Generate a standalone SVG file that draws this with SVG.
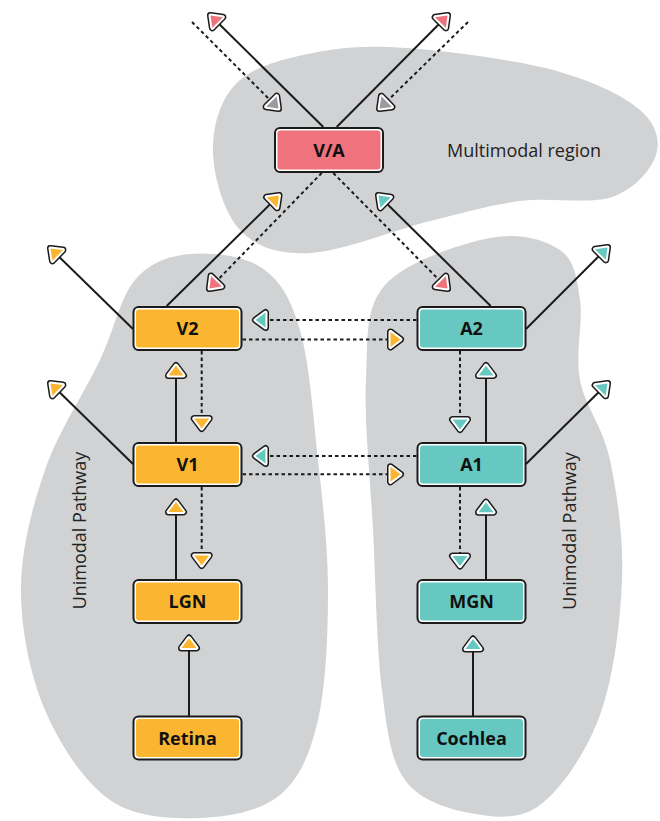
<svg xmlns="http://www.w3.org/2000/svg" xmlns:xlink="http://www.w3.org/1999/xlink" width="660" height="821" viewBox="0 0 660 821">
<style>
.blob{fill:#D1D2D4}
.ln{stroke:#1b1b1b;stroke-width:2;fill:none}
.dot{stroke:#1b1b1b;stroke-width:2;fill:none;stroke-dasharray:3.5 3}
.ak{fill:#1b1b1b;stroke:#1b1b1b;stroke-width:7;stroke-linejoin:round}
.aw{fill:#fff;stroke:#fff;stroke-width:4;stroke-linejoin:round}
.bo{fill:#fff;stroke:#1b1b1b;stroke-width:2}
.or{fill:#FBB631}
.te{fill:#67C8C2}
.pk{fill:#EF737C}
.gr{fill:#9A9B9F}
.lbl{font-family:"Open Sans","Noto Sans","Liberation Sans",sans-serif;font-weight:700;font-size:18px;fill:#111;text-anchor:middle}
.reg{font-family:"Open Sans","Noto Sans","Liberation Sans",sans-serif;font-size:18px;fill:#222}
</style>
<defs>
<path id="ah" d="M-13.5,-7.5 L-3.5,0 L-13.5,7.5 Z"/>
<marker id="mo" viewBox="-20 -12 24 24" refX="0" refY="0" markerWidth="24" markerHeight="24" markerUnits="userSpaceOnUse" orient="auto" overflow="visible">
<use href="#ah" class="ak"/><use href="#ah" class="aw"/><use href="#ah" class="or"/>
</marker>
<marker id="mt" viewBox="-20 -12 24 24" refX="0" refY="0" markerWidth="24" markerHeight="24" markerUnits="userSpaceOnUse" orient="auto" overflow="visible">
<use href="#ah" class="ak"/><use href="#ah" class="aw"/><use href="#ah" class="te"/>
</marker>
<marker id="mp" viewBox="-20 -12 24 24" refX="0" refY="0" markerWidth="24" markerHeight="24" markerUnits="userSpaceOnUse" orient="auto" overflow="visible">
<use href="#ah" class="ak"/><use href="#ah" class="aw"/><use href="#ah" class="pk"/>
</marker>
<marker id="mg" viewBox="-20 -12 24 24" refX="0" refY="0" markerWidth="24" markerHeight="24" markerUnits="userSpaceOnUse" orient="auto" overflow="visible">
<use href="#ah" class="ak"/><use href="#ah" class="aw"/><use href="#ah" class="gr"/>
</marker>
</defs>

<g id="regions">
<path id="multimodal-region" class="blob" d="M213,150 C213,125 220.5,96.7 240,80 C259.5,63.3 298.3,55 330,50 C361.7,45 391.7,46.3 430,50 C468.3,53.7 525,62 560,72 C595,82 624,96.2 640,110 C656,123.8 660.7,140.5 656,155 C651.3,169.5 634.7,189.3 612,197 C589.3,204.7 550.3,197 520,201 C489.7,205 465,212.3 430,221 C395,229.7 341.7,251.5 310,253 C278.3,254.5 256.2,247.2 240,230 C223.8,212.8 213,175 213,150 Z"/>
<path id="left-unimodal" class="blob" d="M190,254 C211.2,252 243.7,255.3 262,268 C280.3,280.7 290.7,298 300,330 C309.3,362 313.3,416.7 318,460 C322.7,503.3 328,546.7 328,590 C328,633.3 326,685.8 318,720 C310,754.2 299.7,778.7 280,795 C260.3,811.3 228.3,817.2 200,818 C171.7,818.8 135.8,818 110,800 C84.2,782 59.8,745 45,710 C30.2,675 21,630 21,590 C21,550 31.8,508.3 45,470 C58.2,431.7 85,391.7 100,360 C115,328.3 120,297.7 135,280 C150,262.3 168.8,256 190,254 Z"/>
<path id="right-unimodal" class="blob" d="M490,238 C519.2,232.2 545,239.7 560,250 C575,260.3 576.7,278.3 580,300 C583.3,321.7 575,353.3 580,380 C585,406.7 603,426.7 610,460 C617,493.3 623.7,537.5 622,580 C620.3,622.5 613.7,677.5 600,715 C586.3,752.5 561.7,788.7 540,805 C518.3,821.3 492.5,817.2 470,813 C447.5,808.8 419.7,800.5 405,780 C390.3,759.5 387.3,731.7 382,690 C376.7,648.3 375.7,581.7 373,530 C370.3,478.3 364,420.8 366,380 C368,339.2 364.3,308.7 385,285 C405.7,261.3 460.8,243.8 490,238 Z"/>
<text class="reg" x="447" y="157">Multimodal region</text>
<text class="reg" text-anchor="middle" transform="translate(85.6,530.5) rotate(-90)">Unimodal Pathway</text>
<text class="reg" text-anchor="middle" transform="translate(576.2,531) rotate(-90)">Unimodal Pathway</text>
</g>

<g id="connectors">
<line class="dot" x1="201.7" y1="351" x2="201.7" y2="432" marker-end="url(#mo)"/>
<line class="ln" x1="176" y1="442" x2="176" y2="362" marker-end="url(#mo)"/>
<line class="dot" x1="201.7" y1="487" x2="201.7" y2="569" marker-end="url(#mo)"/>
<line class="ln" x1="176" y1="579" x2="176" y2="498.5" marker-end="url(#mo)"/>
<line class="ln" x1="189" y1="716" x2="189" y2="634.5" marker-end="url(#mo)"/>
<line class="dot" x1="460" y1="351" x2="460" y2="433" marker-end="url(#mt)"/>
<line class="ln" x1="486" y1="442" x2="486" y2="362" marker-end="url(#mt)"/>
<line class="dot" x1="460" y1="487" x2="460" y2="569.5" marker-end="url(#mt)"/>
<line class="ln" x1="486" y1="579" x2="486" y2="498.7" marker-end="url(#mt)"/>
<line class="ln" x1="473" y1="716" x2="473" y2="635.5" marker-end="url(#mt)"/>
<line class="dot" x1="416.5" y1="320" x2="252" y2="320" marker-end="url(#mt)"/>
<line class="dot" x1="242.5" y1="339.4" x2="404" y2="339.4" marker-end="url(#mo)"/>
<line class="dot" x1="416.5" y1="456" x2="252" y2="456" marker-end="url(#mt)"/>
<line class="dot" x1="242.5" y1="474.3" x2="404" y2="474.3" marker-end="url(#mo)"/>
<line class="ln" x1="166.7" y1="306" x2="281.5" y2="193" marker-end="url(#mo)"/>
<line class="dot" x1="321.7" y1="173" x2="207" y2="291" marker-end="url(#mp)"/>
<line class="dot" x1="333.3" y1="173" x2="450" y2="291" marker-end="url(#mp)"/>
<line class="ln" x1="490.7" y1="306" x2="376" y2="193" marker-end="url(#mt)"/>
<line class="ln" x1="323.3" y1="127" x2="208" y2="13" marker-end="url(#mp)"/>
<line class="ln" x1="336.7" y1="127" x2="450" y2="13" marker-end="url(#mp)"/>
<line class="dot" x1="192" y1="22" x2="281" y2="111" marker-end="url(#mg)"/>
<line class="dot" x1="468" y1="22" x2="377" y2="111" marker-end="url(#mg)"/>
<line class="ln" x1="133" y1="329" x2="48" y2="246" marker-end="url(#mo)"/>
<line class="ln" x1="133" y1="464" x2="48" y2="381" marker-end="url(#mo)"/>
<line class="ln" x1="526" y1="329" x2="610" y2="245" marker-end="url(#mt)"/>
<line class="ln" x1="526" y1="464" x2="610" y2="381" marker-end="url(#mt)"/>
</g>

<g id="node-va"><rect class="bo" x="275" y="128" width="108" height="44" rx="5"/><rect class="pk" x="277.5" y="130.5" width="103" height="39" rx="3"/><text class="lbl" x="329" y="156.5">V/A</text></g>
<g id="node-v2"><rect class="bo" x="133.5" y="307" width="108" height="43" rx="5"/><rect class="or" x="136" y="309.5" width="103" height="38" rx="3"/><text class="lbl" x="187.5" y="335">V2</text></g>
<g id="node-a2"><rect class="bo" x="417.5" y="307" width="108" height="43" rx="5"/><rect class="te" x="420" y="309.5" width="103" height="38" rx="3"/><text class="lbl" x="471.5" y="335">A2</text></g>
<g id="node-v1"><rect class="bo" x="133.5" y="443" width="108" height="43" rx="5"/><rect class="or" x="136" y="445.5" width="103" height="38" rx="3"/><text class="lbl" x="187.5" y="471">V1</text></g>
<g id="node-a1"><rect class="bo" x="417.5" y="443" width="108" height="43" rx="5"/><rect class="te" x="420" y="445.5" width="103" height="38" rx="3"/><text class="lbl" x="471.5" y="471">A1</text></g>
<g id="node-lgn"><rect class="bo" x="133.5" y="580" width="108" height="43" rx="5"/><rect class="or" x="136" y="582.5" width="103" height="38" rx="3"/><text class="lbl" x="187.5" y="608">LGN</text></g>
<g id="node-mgn"><rect class="bo" x="417.5" y="580" width="108" height="43" rx="5"/><rect class="te" x="420" y="582.5" width="103" height="38" rx="3"/><text class="lbl" x="471.5" y="608">MGN</text></g>
<g id="node-retina"><rect class="bo" x="133.5" y="716.5" width="108" height="43" rx="5"/><rect class="or" x="136" y="719" width="103" height="38" rx="3"/><text class="lbl" x="187.5" y="744.5">Retina</text></g>
<g id="node-cochlea"><rect class="bo" x="417.5" y="716.5" width="108" height="43" rx="5"/><rect class="te" x="420" y="719" width="103" height="38" rx="3"/><text class="lbl" x="471.5" y="744.5">Cochlea</text></g>
</svg>
